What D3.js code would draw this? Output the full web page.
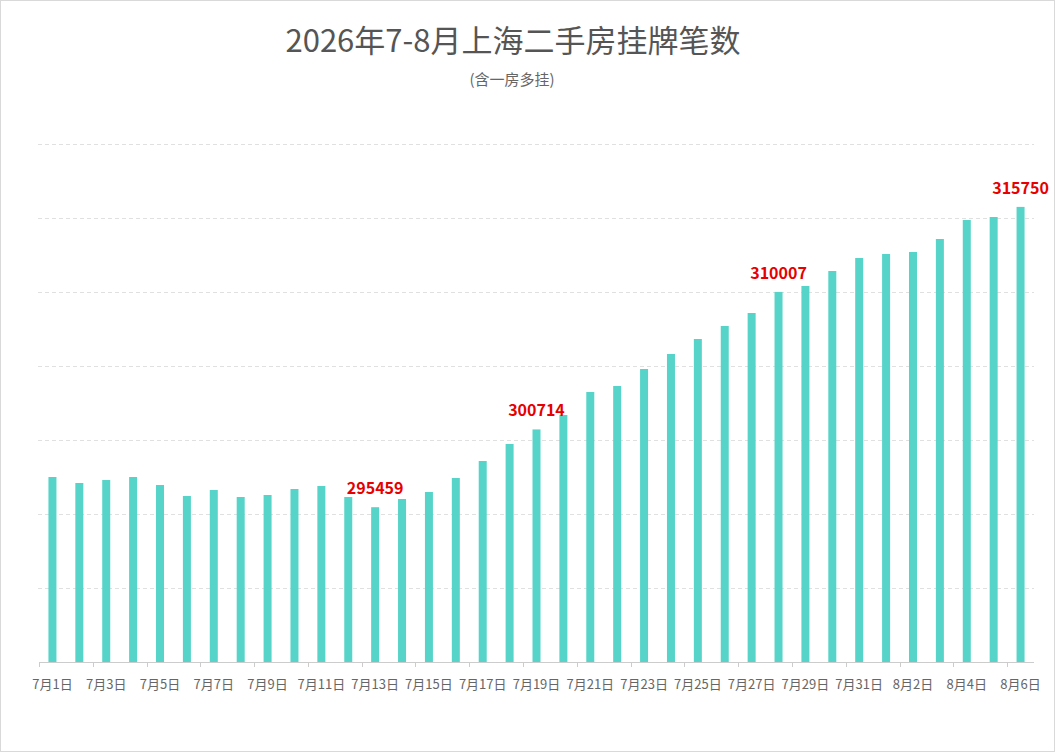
<!DOCTYPE html>
<html>
<head>
<meta charset="utf-8">
<script src="https://cdn.jsdelivr.net/npm/d3@7"></script>
<style>
  body { margin: 0; background: #fff; }
  svg { display: block; font-family: "Noto Sans CJK SC", "Noto Sans", sans-serif; }
</style>
</head>
<body>
<svg id="chart" width="1055" height="752"></svg>
<script>
// dates 7/1 .. 8/6
const days = [
  "7月1日","7月2日","7月3日","7月4日","7月5日","7月6日","7月7日","7月8日","7月9日","7月10日",
  "7月11日","7月12日","7月13日","7月14日","7月15日","7月16日","7月17日","7月18日","7月19日","7月20日",
  "7月21日","7月22日","7月23日","7月24日","7月25日","7月26日","7月27日","7月28日","7月29日","7月30日",
  "7月31日","8月1日","8月2日","8月3日","8月4日","8月5日","8月6日"
];
const listings = [
  297500, 297095, 297297, 297500, 296960, 296216, 296622, 296149, 296284, 296689,
  296892, 296149, 295459, 296014, 296486, 297432, 298581, 299730, 300714, 301689,
  303243, 303649, 304797, 305811, 306824, 307703, 308581, 310007, 310405, 311419,
  312297, 312568, 312703, 313581, 314865, 315068, 315750
];
// which days get a red value label
const labelled = ["7月13日", "7月19日", "7月28日", "8月6日"];
const yTicks = [290000, 295000, 300000, 305000, 310000, 315000, 320000];

const svg = d3.select("#chart");
const gLeft = 39, gRight = 1034, gTop = 144, gBottom = 662;

svg.append("rect")
    .attr("x", 0.5).attr("y", 0.5)
    .attr("width", 1054).attr("height", 751)
    .attr("fill", "none").attr("stroke", "#d9d9d9");

svg.append("text")
    .attr("x", 513).attr("y", 52)
    .attr("text-anchor", "middle")
    .attr("font-size", "31px")
    .attr("fill", "#555")
    .text("2026年7-8月上海二手房挂牌笔数");

svg.append("text")
    .attr("x", 512).attr("y", 85)
    .attr("text-anchor", "middle")
    .attr("font-size", "15px")
    .attr("fill", "#666")
    .text("(含一房多挂)");

const x = d3.scaleBand().domain(days).range([gLeft, gRight]).padding(0);
const y = d3.scaleLinear().domain([285000, 320000]).range([gBottom, gTop]);

// grid
svg.append("g").selectAll("line").data(yTicks).enter().append("line")
    .attr("x1", gLeft - 1).attr("x2", gRight)
    .attr("y1", d => Math.round(y(d)) + 0.5)
    .attr("y2", d => Math.round(y(d)) + 0.5)
    .attr("stroke", "#e0e0e0")
    .attr("stroke-dasharray", "4,3");

// bars
const barW = 8;
svg.append("g").selectAll("rect").data(listings).enter().append("rect")
    .attr("x", (d, i) => x(days[i]) + x.bandwidth() / 2 - barW / 2)
    .attr("y", d => y(d))
    .attr("width", barW)
    .attr("height", d => gBottom - y(d))
    .attr("fill", "#56d4c9");

// x axis
const ax = svg.append("g");
ax.append("line")
    .attr("x1", gLeft).attr("x2", gRight)
    .attr("y1", gBottom + 0.5).attr("y2", gBottom + 0.5)
    .attr("stroke", "#ccc");

const shown = days.filter((d, i) => i % 2 == 0);
ax.selectAll(".tick").data(shown).enter().append("line")
    .attr("class", "tick")
    .attr("x1", d => Math.round(x(d)) + 0.5)
    .attr("x2", d => Math.round(x(d)) + 0.5)
    .attr("y1", gBottom).attr("y2", gBottom + 5)
    .attr("stroke", "#ccc");

ax.selectAll(".lbl").data(shown).enter().append("text")
    .attr("class", "lbl")
    .attr("x", d => x(d) + x.bandwidth() / 2)
    .attr("y", gBottom + 27)
    .attr("text-anchor", "middle")
    .attr("font-size", "13px")
    .attr("fill", "#666")
    .text(d => d);

// value labels
svg.append("g").selectAll("text").data(labelled).enter().append("text")
    .attr("x", d => x(d) + x.bandwidth() / 2)
    .attr("y", d => y(listings[days.indexOf(d)]) - 13)
    .attr("text-anchor", "middle")
    .attr("font-size", "16px")
    .attr("font-weight", "bold")
    .attr("fill", "#e60000")
    .text(d => listings[days.indexOf(d)]);
</script>
</body>
</html>
